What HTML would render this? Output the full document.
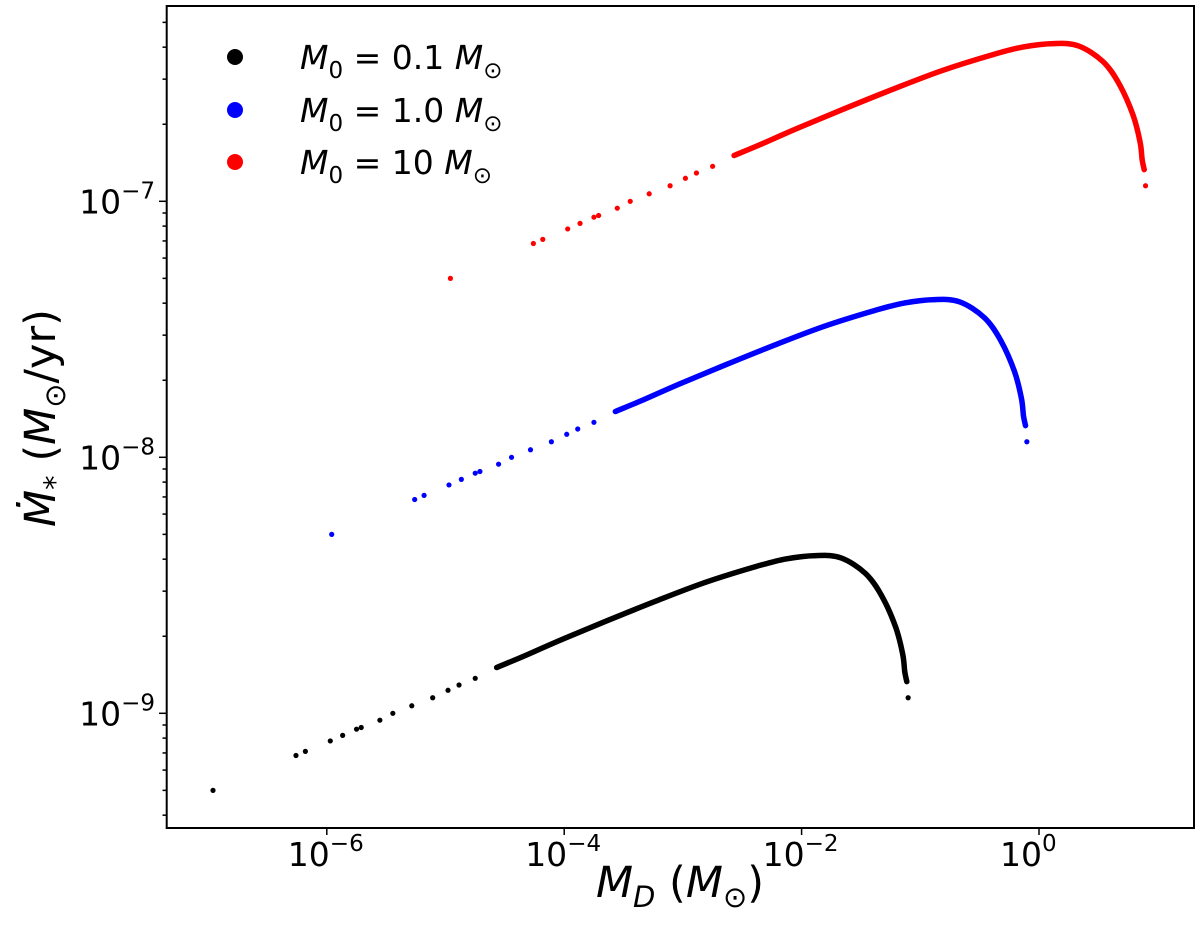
<!DOCTYPE html>
<html><head><meta charset="utf-8"><style>
body{margin:0;background:#fff;}
svg{display:block;font-family:"DejaVu Sans","Liberation Sans",sans-serif;}
</style></head><body>
<svg id="chart" width="1200" height="933" viewBox="0 0 1200 933">
<rect x="0" y="0" width="1200" height="933" fill="#fff"/>
<g id="ticks"></g>
<g id="marks"></g>
<rect x="166.7" y="6" width="1027.3" height="822" fill="none" stroke="#000" stroke-width="2"/>
<g>
 <g><circle cx="235" cy="57" r="8" fill="#000"/><text x="300" y="69" font-size="33"><tspan font-style="italic">M</tspan><tspan font-size="23" dy="9">0</tspan><tspan dy="-9"> = 0.1 </tspan><tspan font-style="italic">M</tspan><tspan font-size="23" dy="9">⊙</tspan></text></g>
 <g><circle cx="235" cy="110" r="8" fill="#0000ff"/><text x="300" y="122" font-size="33"><tspan font-style="italic">M</tspan><tspan font-size="23" dy="9">0</tspan><tspan dy="-9"> = 1.0 </tspan><tspan font-style="italic">M</tspan><tspan font-size="23" dy="9">⊙</tspan></text></g>
 <g><circle cx="235" cy="162" r="8" fill="#ff0000"/><text x="300" y="174" font-size="33"><tspan font-style="italic">M</tspan><tspan font-size="23" dy="9">0</tspan><tspan dy="-9"> = 10 </tspan><tspan font-style="italic">M</tspan><tspan font-size="23" dy="9">⊙</tspan></text></g>
</g>
<text x="680" y="897" font-size="43" text-anchor="middle"><tspan font-style="italic">M</tspan><tspan font-size="29" dy="10" font-style="italic">D</tspan><tspan dy="-10"> (</tspan><tspan font-style="italic">M</tspan><tspan font-size="29" dy="10">⊙</tspan><tspan dy="-10">)</tspan></text>
<text transform="translate(55,418) rotate(-90)" font-size="43" text-anchor="middle"><tspan font-style="italic">Ṁ</tspan><tspan font-size="29" dy="10">*</tspan><tspan dy="-10"> (</tspan><tspan font-style="italic">M</tspan><tspan font-size="29" dy="10">⊙</tspan><tspan dy="-10">/yr)</tspan></text>
</svg>
<script>
const xTickExps = [-6, -4, -2, 0];
const yTickExps = [-9, -8, -7];
const blackX = [1.1e-7,5.5e-7,6.6e-7,1.07e-6,1.36e-6,1.78e-6,1.95e-6,2.8e-6,3.6e-6,5.2e-6,7.8e-6,1.05e-5,1.3e-5,1.78e-5,2.7e-5,4.4e-5,9.5e-5,2.3e-4,6.0e-4,1.55e-3,4.1e-3,7.4e-3,1.32e-2,2.14e-2,3.47e-2,4.8e-2,6.2e-2,7.1e-2,7.4e-2,7.7e-2,7.9e-2];
const blackY = [5.0e-10,6.84e-10,7.1e-10,7.8e-10,8.2e-10,8.67e-10,8.8e-10,9.4e-10,1.0e-9,1.07e-9,1.15e-9,1.23e-9,1.29e-9,1.37e-9,1.51e-9,1.66e-9,1.94e-9,2.3e-9,2.75e-9,3.25e-9,3.74e-9,4.01e-9,4.13e-9,4.05e-9,3.51e-9,2.84e-9,2.17e-9,1.71e-9,1.45e-9,1.33e-9,1.15e-9];
const blueX = [1.1e-6,5.5e-6,6.6e-6,1.07e-5,1.36e-5,1.78e-5,1.95e-5,2.8e-5,3.6e-5,5.2e-5,7.8e-5,1.05e-4,1.3e-4,1.78e-4,2.7e-4,4.4e-4,9.5e-4,2.3e-3,6.0e-3,1.55e-2,4.1e-2,7.4e-2,1.32e-1,2.14e-1,3.47e-1,4.8e-1,6.2e-1,7.1e-1,7.4e-1,7.7e-1,7.9e-1];
const blueY = [5.0e-9,6.84e-9,7.1e-9,7.8e-9,8.2e-9,8.67e-9,8.8e-9,9.4e-9,1.0e-8,1.07e-8,1.15e-8,1.23e-8,1.29e-8,1.37e-8,1.51e-8,1.66e-8,1.94e-8,2.3e-8,2.75e-8,3.25e-8,3.74e-8,4.01e-8,4.13e-8,4.05e-8,3.51e-8,2.84e-8,2.17e-8,1.71e-8,1.45e-8,1.33e-8,1.15e-8];
const redX = [1.1e-5,5.5e-5,6.6e-5,1.07e-4,1.36e-4,1.78e-4,1.95e-4,2.8e-4,3.6e-4,5.2e-4,7.8e-4,1.05e-3,1.3e-3,1.78e-3,2.7e-3,4.4e-3,9.5e-3,2.3e-2,6.0e-2,1.55e-1,4.1e-1,7.4e-1,1.32,2.14,3.47,4.8,6.2,7.1,7.4,7.7,7.9];
const redY = [5.0e-8,6.84e-8,7.1e-8,7.8e-8,8.2e-8,8.67e-8,8.8e-8,9.4e-8,1.0e-7,1.07e-7,1.15e-7,1.23e-7,1.29e-7,1.37e-7,1.51e-7,1.66e-7,1.94e-7,2.3e-7,2.75e-7,3.25e-7,3.74e-7,4.01e-7,4.13e-7,4.05e-7,3.51e-7,2.84e-7,2.17e-7,1.71e-7,1.45e-7,1.33e-7,1.15e-7];
const denseStart = [2.2e-5, 2.2e-4, 2.2e-3];
const denseEnd = [7.7e-2, 7.7e-1, 7.7];

const NS = "http://www.w3.org/2000/svg";
function xs(v){ return 1039 + Math.log10(v) * 118.7; }
function ys(v){ return 201.3 - (Math.log10(v) + 7) * 256; }
const ticks = document.getElementById('ticks');
const marks = document.getElementById('marks');
function ln(g,x1,y1,x2,y2,w,c){const l=document.createElementNS(NS,'line');l.setAttribute('x1',x1);l.setAttribute('y1',y1);l.setAttribute('x2',x2);l.setAttribute('y2',y2);l.setAttribute('stroke',c||'#000');l.setAttribute('stroke-width',w);g.appendChild(l);return l;}
function tx(g,x,y,base,exp,anchor){const t=document.createElementNS(NS,'text');t.setAttribute('x',x);t.setAttribute('y',y);t.setAttribute('font-size','33');t.setAttribute('text-anchor',anchor);const a=document.createElementNS(NS,'tspan');a.textContent=base;const b=document.createElementNS(NS,'tspan');b.setAttribute('font-size','23');b.setAttribute('dy','-15');b.textContent=exp;t.appendChild(a);t.appendChild(b);g.appendChild(t);return t;}
xTickExps.forEach(e=>{
  const x=xs(Math.pow(10,e));
  const l=ln(ticks,x,828,x,835,1.5);
  
  
  const t=tx(ticks,x-39,866,'10',e===0?'0':'−'+(-e),'start');
  
  
});
for(let e=-10;e<=-7;e++){
  for(let m=1;m<=9;m++){
    const v=m*Math.pow(10,e);
    const y=ys(v);
    if(y<6||y>828) continue;
    const l=ln(ticks,166.7,y,m===1?159:162.5,y,1.5);
    
    
  }
}
yTickExps.forEach(e=>{
  const y=ys(Math.pow(10,e));
  const t=tx(ticks,155,y+12,'10','−'+(-e),'end');
  
  
});
function series(X,Y,color,name,ds,de){
  const g=document.createElementNS(NS,'g');
  
  
  marks.appendChild(g);
  const pts=[];
  for(let i=0;i<X.length;i++){ if(X[i]>=ds&&X[i]<=de) pts.push([xs(X[i]),ys(Y[i])]); }
  let d='M'+pts[0][0].toFixed(1)+' '+pts[0][1].toFixed(1);
  for(let i=0;i<pts.length-1;i++){
    const p0=pts[Math.max(0,i-1)],p1=pts[i],p2=pts[i+1],p3=pts[Math.min(pts.length-1,i+2)];
    const c1=[p1[0]+(p2[0]-p0[0])/6,p1[1]+(p2[1]-p0[1])/6];
    const c2=[p2[0]-(p3[0]-p1[0])/6,p2[1]-(p3[1]-p1[1])/6];
    d+='C'+c1[0].toFixed(1)+' '+c1[1].toFixed(1)+' '+c2[0].toFixed(1)+' '+c2[1].toFixed(1)+' '+p2[0].toFixed(1)+' '+p2[1].toFixed(1);
  }
  const p=document.createElementNS(NS,'path');
  p.setAttribute('d',d);p.setAttribute('fill','none');p.setAttribute('stroke',color);
  p.setAttribute('stroke-width','5.5');p.setAttribute('stroke-linejoin','round');p.setAttribute('stroke-linecap','round');
  
  
  g.appendChild(p);
  for(let i=0;i<X.length;i++){
    const c=document.createElementNS(NS,'circle');
    c.setAttribute('cx',xs(X[i]));c.setAttribute('cy',ys(Y[i]));c.setAttribute('r','2.6');c.setAttribute('fill',color);
    
    
    g.appendChild(c);
  }
}
series(blackX,blackY,'#000','series-m0-0.1',denseStart[0],denseEnd[0]);
series(blueX,blueY,'#0000ff','series-m0-1.0',denseStart[1],denseEnd[1]);
series(redX,redY,'#ff0000','series-m0-10',denseStart[2],denseEnd[2]);
</script>
</body></html>
